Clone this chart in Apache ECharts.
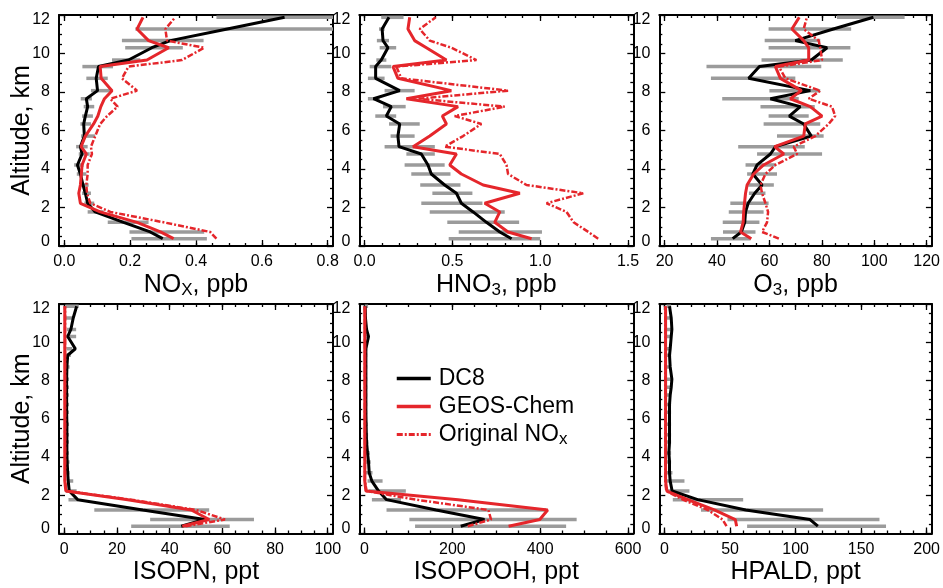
<!DOCTYPE html>
<html><head><meta charset="utf-8">
<script src="https://cdn.jsdelivr.net/npm/echarts@6/dist/echarts.min.js"></script>
<style>html,body{margin:0;padding:0;background:#fff}#c{width:943px;height:588px}</style>
</head><body><div id="c"></div>
<script>
// Altitude bins (km), low to high
const ALT = [0.38, 0.73, 1.23, 1.77, 2.22, 2.74, 3.17, 3.74, 4.21, 4.78, 5.16, 5.71, 6.34, 6.75, 7.24, 7.65, 8.07, 8.71, 9.32, 9.66, 10.30, 10.67, 11.27, 11.88];

// NOx, ppb
const NOX_DC8  = [0.299, 0.261, 0.180, 0.094, 0.071, 0.064, 0.057, 0.049, 0.040, 0.054, 0.049, 0.061, 0.059, 0.064, 0.071, 0.067, 0.101, 0.097, 0.104, 0.195, 0.266, 0.322, 0.495, 0.669];
const NOX_LO   = [0.204, 0.198, 0.132, 0.071, 0.061, 0.054, 0.049, 0.038, 0.030, 0.044, 0.036, 0.051, 0.049, 0.054, 0.059, 0.050, 0.081, 0.067, 0.055, 0.145, 0.185, 0.175, 0.216, 0.462];
const NOX_HI   = [0.433, 0.425, 0.256, 0.119, 0.091, 0.081, 0.074, 0.067, 0.059, 0.077, 0.071, 0.094, 0.081, 0.087, 0.091, 0.084, 0.140, 0.132, 0.148, 0.231, 0.360, 0.423, 0.85, 0.85];
const NOX_GC   = [0.332, 0.292, 0.221, 0.109, 0.049, 0.044, 0.049, 0.052, 0.054, 0.067, 0.051, 0.064, 0.089, 0.102, 0.111, 0.122, 0.145, 0.112, 0.109, 0.251, 0.317, 0.256, 0.221, 0.239];
const NOX_ORIG = [0.462, 0.443, 0.302, 0.140, 0.079, 0.069, 0.067, 0.071, 0.071, 0.084, 0.081, 0.094, 0.109, 0.130, 0.162, 0.140, 0.221, 0.175, 0.195, 0.357, 0.425, 0.312, 0.307, 0.337];

// HNO3, ppb
const HNO3_DC8  = [0.837, 0.770, 0.694, 0.618, 0.551, 0.523, 0.456, 0.380, 0.361, 0.323, 0.196, 0.190, 0.200, 0.124, 0.152, 0.051, 0.200, 0.063, 0.063, 0.095, 0.133, 0.105, 0.100, 0.139];
const HNO3_LO   = [0.479, 0.536, 0.471, 0.371, 0.323, 0.386, 0.317, 0.266, 0.228, 0.238, 0.114, 0.148, 0.139, 0.061, 0.105, 0.019, 0.114, 0.019, 0.029, 0.067, 0.086, 0.070, 0.082, 0.095];
const HNO3_HI   = [1.000, 1.010, 0.880, 0.798, 0.671, 0.614, 0.546, 0.489, 0.456, 0.400, 0.400, 0.285, 0.314, 0.180, 0.234, 0.086, 0.285, 0.114, 0.152, 0.124, 0.180, 0.139, 0.114, 0.222];
const HNO3_GC   = [0.951, 0.817, 0.741, 0.770, 0.684, 0.884, 0.675, 0.551, 0.485, 0.523, 0.276, 0.371, 0.466, 0.443, 0.532, 0.238, 0.494, 0.190, 0.162, 0.466, 0.352, 0.285, 0.247, 0.257];
const HNO3_ORIG = [1.330, 1.274, 1.190, 1.150, 1.036, 1.245, 0.922, 0.817, 0.808, 0.770, 0.456, 0.561, 0.665, 0.513, 0.798, 0.304, 0.817, 0.209, 0.181, 0.637, 0.494, 0.371, 0.314, 0.405];

// O3, ppb
const O3_DC8  = [46.0, 49.3, 50.6, 50.9, 51.9, 54.4, 57.2, 53.7, 55.3, 60.4, 62.3, 76.0, 73.1, 67.6, 71.8, 60.4, 75.6, 52.1, 56.2, 76.0, 82.0, 69.9, 84.4, 99.7];
const O3_LO   = [37.7, 42.3, 42.2, 44.5, 45.1, 52.2, 51.9, 51.5, 50.9, 55.3, 48.1, 62.9, 57.8, 59.7, 56.6, 42.0, 60.0, 37.7, 36.0, 57.0, 59.7, 58.2, 59.7, 85.8];
const O3_HI   = [52.8, 54.7, 56.2, 57.8, 59.7, 58.5, 61.7, 62.9, 62.3, 80.1, 73.5, 80.7, 79.4, 75.0, 77.3, 71.2, 79.4, 69.9, 79.8, 88.0, 90.9, 79.4, 91.2, 111.6];
const O3_GC   = [53.1, 49.0, 50.0, 50.2, 50.5, 50.9, 51.5, 54.0, 57.8, 65.5, 62.0, 73.1, 73.7, 80.1, 75.6, 68.0, 72.2, 64.2, 62.3, 75.0, 75.0, 73.1, 68.6, 71.4];
const O3_ORIG = [63.6, 57.2, 59.1, 59.5, 58.5, 57.2, 56.6, 58.5, 62.3, 70.6, 69.3, 77.5, 82.6, 85.1, 83.9, 75.0, 79.4, 66.1, 63.6, 80.1, 79.4, 78.8, 73.1, 74.3];

// ISOPN, ppt
const ISOPN_DC8  = [44.4, 53.3, 29.8, 5.1, 1.9, 1.5, 1.3, 1.1, 1.0, 1.0, 1.0, 1.0, 0.9, 0.9, 0.9, 0.9, 0.9, 1.0, 1.3, 4.2, 1.3, 2.5, 3.4, 4.7];
const ISOPN_LO   = [25.4, 32.6, 11.4, 1.6, 0.6, 1.3, 0.5, 0.5, 0.4, 0.4, 0.4, 0.4, 0.4, 0.4, 0.4, 0.4, 0.4, 0.5, 0.5, 0.8, 0.6, 1.0, 0.5, 0.4];
const ISOPN_HI   = [62.8, 72.0, 55.0, 5.1, 4.7, 3.4, 2.0, 2.0, 1.8, 1.8, 1.8, 1.8, 1.8, 1.8, 1.8, 1.8, 1.8, 2.0, 2.5, 3.0, 4.5, 4.5, 3.5, 5.5];
const ISOPN_GC   = [44.8, 55.0, 48.2, 24.1, 0.6, 0.2, 0.2, 0.2, 0.2, 0.2, 0.2, 0.2, 0.2, 0.2, 0.2, 0.2, 0.2, 0.2, 0.2, 0.2, 0.2, 0.2, 0.2, 0.2];
const ISOPN_ORIG = [46.0, 61.0, 50.0, 25.4, 0.8, 0.3, 0.3, 0.3, 0.3, 0.3, 0.3, 0.3, 0.3, 0.3, 0.3, 0.3, 0.3, 0.3, 0.3, 0.3, 0.3, 0.3, 0.3, 0.3];

// ISOPOOH, ppt
const ISOPOOH_DC8  = [219, 273, 163, 50, 32, 16.7, 10.6, 9, 6.8, 4.5, 4, 3.5, 3, 3, 3, 3, 3, 3, 3, 3, 9, 4.5, 2, 1.5];
const ISOPOOH_LO   = [115, 102, 50, 16.7, 9, 6.8, 3, 3, 2, 1.5, 1.5, 1, 1, 1, 1, 1, 1, 1, 1, 1, 2, 1.5, 0.5, 0.5];
const ISOPOOH_HI   = [459, 483, 413, 83, 94, 41, 18, 14, 12, 9, 8, 7, 6, 6, 6, 6, 6, 6, 6, 6, 10, 8, 5, 8];
const ISOPOOH_GC   = [328, 399, 417, 213, 3, 0.5, 0.5, 0.5, 0.5, 0.5, 0.5, 0.5, 0.5, 0.5, 0.5, 0.5, 0.5, 0.5, 0.5, 0.5, 0.5, 0.5, 0.5, 0.5];
const ISOPOOH_ORIG = [235, 288, 282, 117, 4.5, 0.8, 0.8, 0.8, 0.8, 0.8, 0.8, 0.8, 0.8, 0.8, 0.8, 0.8, 0.8, 0.8, 0.8, 0.8, 0.8, 0.8, 0.8, 0.8];

// HPALD, ppt
const HPALD_DC8  = [117, 111, 62, 25.3, 5.8, 4.3, 3.8, 3.8, 3.3, 3.8, 3.8, 3.8, 3.8, 3.8, 4.3, 5.1, 5.6, 4.3, 3.8, 4.3, 5.1, 5.6, 5.1, 3.8];
const HPALD_LO   = [63, 48, 27.8, 6.3, 2.5, 1.8, 1.5, 1.5, 1.5, 1.5, 1.5, 1.5, 1.5, 1.5, 1.5, 1.5, 1.5, 1.5, 1.5, 1.5, 1.5, 1.5, 1.5, 1.5];
const HPALD_HI   = [169, 164, 121, 60, 19, 15.2, 6, 5, 5, 5, 5, 5, 5, 5, 5, 5, 5, 5, 5, 5, 5, 5, 5, 5];
const HPALD_GC   = [55, 54, 38, 17.7, 1.8, 0.8, 0.8, 0.8, 0.8, 0.8, 0.8, 0.8, 0.8, 0.8, 0.8, 0.8, 0.8, 0.8, 0.8, 0.8, 0.8, 0.8, 0.8, 0.8];
const HPALD_ORIG = [47.3, 44.3, 33, 14, 1.3, 0.6, 0.6, 0.6, 0.6, 0.6, 0.6, 0.6, 0.6, 0.6, 0.6, 0.6, 0.6, 0.6, 0.6, 0.6, 0.6, 0.6, 0.6, 0.6];

// Tick values and labels
const NOX_TICKS = [0, 0.2, 0.4, 0.6, 0.8];
const NOX_LABELS = ['0.0', '0.2', '0.4', '0.6', '0.8'];
const HNO3_TICKS = [0, 0.5, 1.0, 1.5];
const HNO3_LABELS = ['0.0', '0.5', '1.0', '1.5'];
const O3_TICKS = [20, 40, 60, 80, 100, 120];
const O3_LABELS = ['20', '40', '60', '80', '100', '120'];
const ISOPN_TICKS = [0, 20, 40, 60, 80, 100];
const ISOPN_LABELS = ['0', '20', '40', '60', '80', '100'];
const ISOPOOH_TICKS = [0, 200, 400, 600];
const ISOPOOH_LABELS = ['0', '200', '400', '600'];
const HPALD_TICKS = [0, 50, 100, 150, 200];
const HPALD_LABELS = ['0', '50', '100', '150', '200'];
const ALT_TICKS = [0, 2, 4, 6, 8, 10, 12];
const ALT_LABELS = ['0', '2', '4', '6', '8', '10', '12'];

const FONT = '"Liberation Sans", Arial, Helvetica, sans-serif';
const RED = '#e5262b';
const GRAY = '#9b9b9b';
const TICK_FS = 16;

const PANELS = [
  {lo:0, hi:0.8, ticks:NOX_TICKS, labels:NOX_LABELS, minor:0.05, name:'{a|NO}{s|X}{a|, ppb}', dc8:NOX_DC8, low:NOX_LO, high:NOX_HI, gc:NOX_GC, orig:NOX_ORIG, yname:true},
  {lo:0, hi:1.5, ticks:HNO3_TICKS, labels:HNO3_LABELS, minor:0.1, name:'{a|HNO}{s|3}{a|, ppb}', dc8:HNO3_DC8, low:HNO3_LO, high:HNO3_HI, gc:HNO3_GC, orig:HNO3_ORIG},
  {lo:20, hi:120, ticks:O3_TICKS, labels:O3_LABELS, minor:5, name:'{a|O}{s|3}{a|, ppb}', dc8:O3_DC8, low:O3_LO, high:O3_HI, gc:O3_GC, orig:O3_ORIG},
  {lo:0, hi:100, ticks:ISOPN_TICKS, labels:ISOPN_LABELS, minor:5, name:'{a|ISOPN, ppt}', dc8:ISOPN_DC8, low:ISOPN_LO, high:ISOPN_HI, gc:ISOPN_GC, orig:ISOPN_ORIG, yname:true},
  {lo:0, hi:600, ticks:ISOPOOH_TICKS, labels:ISOPOOH_LABELS, minor:50, name:'{a|ISOPOOH, ppt}', dc8:ISOPOOH_DC8, low:ISOPOOH_LO, high:ISOPOOH_HI, gc:ISOPOOH_GC, orig:ISOPOOH_ORIG},
  {lo:0, hi:200, ticks:HPALD_TICKS, labels:HPALD_LABELS, minor:10, name:'{a|HPALD, ppt}', dc8:HPALD_DC8, low:HPALD_LO, high:HPALD_HI, gc:HPALD_GC, orig:HPALD_ORIG},
];

const COL_LEFT = [59, 359.3, 659.3];
const ROW = [{top:15, height:231}, {top:304, height:229.5}];
const PANEL_W = 274;

const nameRich = {
  a: {fontSize: 25, fontFamily: FONT, color: '#000', lineHeight: 28},
  s: {fontSize: 17, fontFamily: FONT, color: '#000', lineHeight: 18, verticalAlign: 'bottom'}
};
const tickText = {fontSize: TICK_FS, fontFamily: FONT, color: '#000'};
const yRich = {
  n: tickText,
  b: Object.assign({padding: [0, 0, 9, 0]}, tickText),
  t: Object.assign({padding: [9, 0, 0, 0]}, tickText)
};
const yFmt = (v) => {
  const i = ALT_TICKS.findIndex(t => Math.abs(t - v) < 1e-6);
  if (i < 0) return '';
  const key = i === 0 ? 'b' : (i === ALT_TICKS.length - 1 ? 't' : 'n');
  return '{' + key + '|' + ALT_LABELS[i] + '}';
};

const grids = [], xAxes = [], yAxes = [], series = [];
const lineBlack = {color: '#000', width: 2};
const tickStyle = {color: '#000', width: 1.3};

PANELS.forEach((p, gi) => {
  const row = ROW[Math.floor(gi / 3)];
  grids.push({left: COL_LEFT[gi % 3], top: row.top, width: PANEL_W, height: row.height});
  const pad = (p.hi - p.lo) * 0.02;
  const min = p.lo - pad, max = p.hi + pad;
  const minors = [];
  for (let v = p.lo; v <= p.hi + 1e-9; v += p.minor) minors.push(+v.toFixed(6));
  const base = {type: 'value', gridIndex: gi, min: min, max: max, splitLine: {show: false}};
  const fmt = (v) => {
    const i = p.ticks.findIndex(t => Math.abs(t - v) < 1e-6);
    return i >= 0 ? p.labels[i] : '';
  };
  xAxes.push(Object.assign({}, base, {
    position: 'bottom',
    axisLine: {show: true, onZero: false, lineStyle: lineBlack},
    axisTick: {show: true, inside: true, length: 6, lineStyle: tickStyle, customValues: p.ticks},
    axisLabel: Object.assign({show: true, customValues: p.ticks, formatter: fmt, margin: 8}, tickText),
    name: p.name, nameLocation: 'middle', nameGap: 25, nameMoveOverlap: false,
    nameTextStyle: {rich: nameRich}
  }));
  xAxes.push(Object.assign({}, base, {
    position: 'bottom',
    axisLine: {show: false, onZero: false},
    axisTick: {show: true, inside: true, length: 3, lineStyle: tickStyle, customValues: minors},
    axisLabel: {show: false}
  }));
  xAxes.push(Object.assign({}, base, {
    position: 'top',
    axisLine: {show: true, onZero: false, lineStyle: lineBlack},
    axisTick: {show: true, inside: true, length: 6, lineStyle: tickStyle, customValues: p.ticks},
    axisLabel: {show: false}
  }));
  xAxes.push(Object.assign({}, base, {
    position: 'top',
    axisLine: {show: false, onZero: false},
    axisTick: {show: true, inside: true, length: 3, lineStyle: tickStyle, customValues: minors},
    axisLabel: {show: false}
  }));
  const ybase = {type: 'value', gridIndex: gi, min: 0, max: 12, interval: 2, splitLine: {show: false},
    minorTick: {show: true, splitNumber: 4, length: 3, lineStyle: tickStyle}};
  yAxes.push(Object.assign({}, ybase, {
    position: 'left',
    axisLine: {show: true, onZero: false, lineStyle: lineBlack},
    axisTick: {show: true, inside: true, length: 6, lineStyle: tickStyle},
    axisLabel: {show: true, margin: 9, formatter: yFmt, rich: yRich},
    name: p.yname ? 'Altitude, km' : '', nameLocation: 'middle', nameGap: 24, nameMoveOverlap: false,
    nameTextStyle: {fontSize: 25, fontFamily: FONT, color: '#000'}
  }));
  yAxes.push(Object.assign({}, ybase, {
    position: 'right',
    axisLine: {show: true, onZero: false, lineStyle: lineBlack},
    axisTick: {show: true, inside: true, length: 6, lineStyle: tickStyle},
    axisLabel: {show: false}
  }));
  const xi = gi * 4, yi = gi * 2;
  series.push({
    type: 'custom', xAxisIndex: xi, yAxisIndex: yi, clip: true, silent: true, z: 1,
    renderItem: function (params, api) {
      const a = api.coord([api.value(0), api.value(2)]);
      const b = api.coord([api.value(1), api.value(2)]);
      return {type: 'line', shape: {x1: a[0], y1: a[1], x2: b[0], y2: b[1]}, style: {stroke: GRAY, lineWidth: 3.5}};
    },
    data: ALT.map((h, i) => [p.low[i], p.high[i], h])
  });
  series.push({
    type: 'line', name: 'DC8', xAxisIndex: xi, yAxisIndex: yi, symbol: 'none', z: 2,
    lineStyle: {color: '#000', width: 3}, itemStyle: {color: '#000'},
    data: ALT.map((h, i) => [p.dc8[i], h])
  });
  series.push({
    type: 'line', name: 'Original NOx', xAxisIndex: xi, yAxisIndex: yi, symbol: 'none', z: 3,
    lineStyle: {color: RED, width: 2.5, type: [6, 2, 2, 2]}, itemStyle: {color: RED},
    data: ALT.map((h, i) => [p.orig[i], h])
  });
  series.push({
    type: 'line', name: 'GEOS-Chem', xAxisIndex: xi, yAxisIndex: yi, symbol: 'none', z: 4,
    lineStyle: {color: RED, width: 3}, itemStyle: {color: RED},
    data: ALT.map((h, i) => [p.gc[i], h])
  });
});

const chart = echarts.init(document.getElementById('c'), null, {renderer: 'canvas'});
chart.setOption({
  animation: false,
  backgroundColor: '#fff',
  grid: grids,
  xAxis: xAxes,
  yAxis: yAxes,
  legend: {
    data: [
      {name: 'DC8', lineStyle: {width: 3.5}},
      {name: 'GEOS-Chem', lineStyle: {width: 3.5}},
      {name: 'Original NOx', lineStyle: {width: 3}}
    ],
    orient: 'vertical', left: 395, top: 367, padding: 0,
    itemWidth: 34, itemHeight: 14, itemGap: 5,
    selectedMode: false,
    itemStyle: {opacity: 0},
    formatter: (n) => n === 'Original NOx' ? '{a|Original NO}{s|x}' : '{a|' + n + '}',
    textStyle: {padding: [0, 0, 0, 3], rich: {
      a: {fontSize: 23, fontFamily: FONT, color: '#000', lineHeight: 26},
      s: {fontSize: 17, fontFamily: FONT, color: '#000', lineHeight: 16, verticalAlign: 'bottom'}
    }}
  },
  series: series
});
</script>
</body></html>
